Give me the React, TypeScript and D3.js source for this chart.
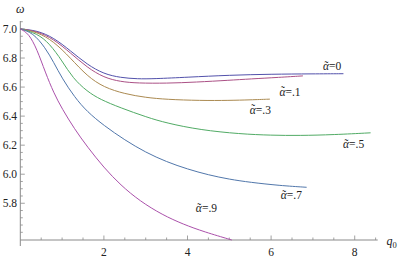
import { useEffect, useRef } from 'react';
import * as d3 from 'd3';

// curve samples (q0, omega)
const alpha0Q = [0, 0.4, 0.8, 1.2, 1.6, 2.0, 2.4, 2.8, 3.2, 4.0, 5.0, 6.0, 7.0, 7.73];
const alpha0W = [7.0, 6.99, 6.94, 6.85, 6.755, 6.69, 6.665, 6.656, 6.657, 6.668, 6.682, 6.689, 6.691, 6.692];

const alpha1Q = [0, 0.4, 0.8, 1.2, 1.6, 2.0, 2.4, 2.8, 3.5, 4.2, 5.0, 5.5, 6.2, 6.76];
const alpha1W = [7.0, 6.985, 6.93, 6.835, 6.735, 6.665, 6.637, 6.627, 6.626, 6.634, 6.647, 6.656, 6.667, 6.677];

const alpha3Q = [0, 0.4, 0.8, 1.2, 1.6, 2.0, 2.5, 3.0, 3.5, 4.3, 5.0, 5.5, 5.97];
const alpha3W = [7.0, 6.98, 6.915, 6.8, 6.675, 6.598, 6.553, 6.528, 6.515, 6.507, 6.508, 6.512, 6.517];

const alpha5Q = [0, 0.4, 0.7, 1.0, 1.26, 1.6, 1.91, 2.39, 3.03, 3.5, 4.3, 5.26, 6.0, 6.69, 7.5, 8.38];
const alpha5W = [7.0, 6.97, 6.9, 6.78, 6.66, 6.57, 6.515, 6.458, 6.392, 6.352, 6.305, 6.277, 6.268, 6.266, 6.272, 6.285];

const alpha7Q = [0, 0.3, 0.6, 0.8, 1.0, 1.3, 1.6, 2.0, 2.5, 3.0, 3.5, 4.0, 4.5, 5.0, 5.5, 6.2, 6.85];
const alpha7W = [7.0, 6.975, 6.87, 6.77, 6.66, 6.53, 6.43, 6.335, 6.235, 6.15, 6.085, 6.035, 5.995, 5.965, 5.944, 5.922, 5.91];

const alpha9Q = [0, 0.2, 0.4, 0.6, 0.8, 1.0, 1.3, 1.6, 2.0, 2.4, 2.86, 3.4, 3.9, 4.4, 5.06];
const alpha9W = [7.0, 6.97, 6.86, 6.7, 6.56, 6.45, 6.31, 6.19, 6.045, 5.925, 5.815, 5.72, 5.655, 5.603, 5.547];

const seriesLabels = ['=0', '=.1', '=.3', '=.5', '=.7', '=.9'];
const seriesColors = ['#5251ab', '#ab5186', '#ab8a51', '#51ab65', '#5177ab', '#ab51ab'];
// where each label sits (q0, omega)
const labelQ = [7.24, 6.2, 5.49, 7.72, 6.23, 4.2];
const labelW = [6.715, 6.54, 6.415, 6.178, 5.828, 5.738];

const xMajor = [2, 4, 6, 8];
const yMajor = [5.8, 6.0, 6.2, 6.4, 6.6, 6.8, 7.0];

const W = 399, H = 259;

export default function App() {
  const ref = useRef<SVGSVGElement>(null);

  useEffect(() => {
    const svg = d3.select(ref.current);
    svg.selectAll('*').remove();

    const x = d3.scaleLinear().domain([0, 8.55]).range([20.3, 377.7]);
    const y = d3.scaleLinear().domain([5.547, 7.055]).range([240, 21]);
    const axisColor = '#8a8a8a';
    const font = "'Liberation Serif', 'DejaVu Serif', 'Times New Roman', serif";

    const g = svg.append('g').style('font-family', font);

    // minor + major ticks (drawn inward)
    const xMinor = d3.range(0.5, 8.51, 0.5).filter(v => !xMajor.includes(v));
    const yMinor = d3.range(5.6, 7.06, 0.05).map(v => +v.toFixed(2)).filter(v => !yMajor.some(m => Math.abs(m - v) < 1e-6));

    g.selectAll('line.xmin').data(xMinor).enter().append('line')
      .attr('x1', d => x(d)).attr('x2', d => x(d))
      .attr('y1', y(5.547)).attr('y2', y(5.547) - 2.5)
      .attr('stroke', axisColor).attr('stroke-width', 0.8);
    g.selectAll('line.xmaj').data(xMajor).enter().append('line')
      .attr('x1', d => x(d)).attr('x2', d => x(d))
      .attr('y1', y(5.547)).attr('y2', y(5.547) - 4.5)
      .attr('stroke', axisColor).attr('stroke-width', 0.8);
    g.selectAll('line.ymin').data(yMinor).enter().append('line')
      .attr('x1', x(0)).attr('x2', x(0) + 2.5)
      .attr('y1', d => y(d)).attr('y2', d => y(d))
      .attr('stroke', axisColor).attr('stroke-width', 0.8);
    g.selectAll('line.ymaj').data(yMajor).enter().append('line')
      .attr('x1', x(0)).attr('x2', x(0) + 4.5)
      .attr('y1', d => y(d)).attr('y2', d => y(d))
      .attr('stroke', axisColor).attr('stroke-width', 0.8);

    // axes
    g.append('line')
      .attr('x1', x(0)).attr('x2', x(8.55))
      .attr('y1', y(5.547)).attr('y2', y(5.547))
      .attr('stroke', axisColor).attr('stroke-width', 1);
    g.append('line')
      .attr('x1', x(0)).attr('x2', x(0))
      .attr('y1', y(7.055)).attr('y2', y(5.547) + 6)
      .attr('stroke', axisColor).attr('stroke-width', 1);

    // tick labels
    g.selectAll('text.xl').data(xMajor).enter().append('text')
      .attr('x', d => x(d)).attr('y', 256)
      .attr('text-anchor', 'middle')
      .attr('font-size', 11.5).attr('fill', '#222')
      .text(d => d);
    g.selectAll('text.yl').data(yMajor).enter().append('text')
      .attr('x', 17).attr('y', d => y(d) + 4)
      .attr('text-anchor', 'end')
      .attr('font-size', 11.5).attr('fill', '#222')
      .text(d => d.toFixed(1));

    // axis labels
    g.append('text').attr('x', 16).attr('y', 13)
      .attr('font-size', 12).attr('font-style', 'italic').attr('fill', '#222')
      .text('ω');
    const ql = g.append('text').attr('x', 386.5).attr('y', 245)
      .attr('font-size', 12).attr('fill', '#222');
    ql.append('tspan').attr('font-style', 'italic').text('q');
    ql.append('tspan').attr('font-size', 8.5).attr('dy', 2.5).text('0');

    // curves
    const allQ = [alpha0Q, alpha1Q, alpha3Q, alpha5Q, alpha7Q, alpha9Q];
    const allW = [alpha0W, alpha1W, alpha3W, alpha5W, alpha7W, alpha9W];
    const line = d3.line<[number, number]>()
      .x(d => x(d[0]))
      .y(d => y(d[1]))
      .curve(d3.curveBasis);

    allQ.forEach((qs, i) => {
      const pts = qs.map((q, j) => [q, allW[i][j]] as [number, number]);
      g.append('path')
        .attr('d', line(pts))
        .attr('fill', 'none')
        .attr('stroke', seriesColors[i])
        .attr('stroke-width', 1);
    });

    // curve labels: alpha with a tilde above, then the value
    seriesLabels.forEach((lab, i) => {
      const lx = x(labelQ[i]), ly = y(labelW[i]);
      const t = g.append('text')
        .attr('x', lx).attr('y', ly)
        .attr('font-size', 11.5).attr('fill', '#222');
      t.append('tspan').attr('font-style', 'italic').text('α');
      t.append('tspan').text(lab);
      g.append('text')
        .attr('x', lx + 3.4).attr('y', ly - 0.5)
        .attr('text-anchor', 'middle')
        .attr('font-size', 11.5).attr('fill', '#222')
        .text('\u02DC');
    });
  }, []);

  return (
    <div style={{ position: 'absolute', left: 0, top: 0 }}>
      <svg ref={ref} width={W} height={H} style={{ display: 'block', background: '#fff' }} />
    </div>
  );
}
